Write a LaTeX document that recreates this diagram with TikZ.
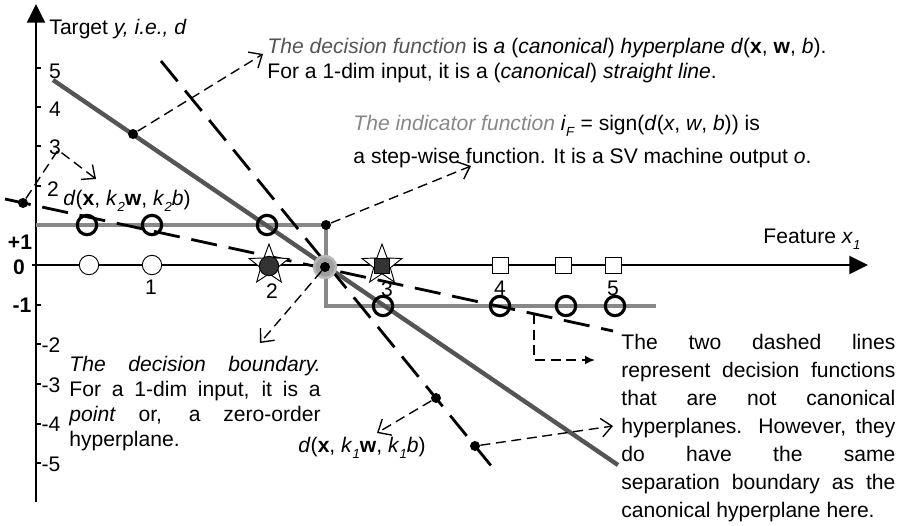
\documentclass[tikz,border=0pt]{standalone}
\usepackage{fontspec}
\setmainfont{Liberation Sans}
\usepackage{tikz}
\usetikzlibrary{shapes.geometric, arrows.meta}
\definecolor{canongray}{RGB}{85,85,85}
\definecolor{indgray}{RGB}{136,136,136}
\definecolor{ptdark}{RGB}{51,51,51}
\definecolor{bndfill}{RGB}{160,160,160}
\definecolor{bndring}{RGB}{185,185,185}
\newcommand{\lowsub}[1]{\raisebox{-0.55ex}{\fontsize{6}{6}\selectfont #1}}
\tikzset{
  axis/.style={-{Triangle[length=3mm,width=2.9mm]}, line width=0.3mm, black},
  canonline/.style={line width=0.7mm, color=canongray},
  indline/.style={line width=0.5mm, color=indgray},
  dashline/.style={line width=0.45mm, black, dash pattern=on 4.2mm off 1.9mm},
  annarrow/.style={-{Straight Barb[length=1.7mm,width=3mm]}, line width=0.22mm,
    dash pattern=on 1.6mm off 0.9mm},
  elbarrow/.style={-{Latex[length=1.6mm,width=1.4mm]}, line width=0.22mm,
    dash pattern=on 1.6mm off 0.9mm},
  opennode/.style={circle, draw, fill=white, minimum size=3.1mm,
    inner sep=0pt, line width=0.15mm},
  svnode/.style={circle, draw, minimum size=3.1mm, inner sep=0pt, line width=0.5mm},
  sqnode/.style={rectangle, draw, fill=white, minimum size=2.55mm,
    inner sep=0pt, line width=0.15mm},
  starnode/.style={star, star points=5, star point ratio=2.4, draw, fill=white,
    minimum size=6.7mm, inner sep=0pt, line width=0.15mm},
  darkcirc/.style={circle, draw, fill=ptdark, minimum size=3.1mm, inner sep=0pt,
    line width=0.15mm},
  darksq/.style={rectangle, draw, fill=ptdark, minimum size=2.5mm, inner sep=0pt,
    line width=0.15mm},
  bndnode/.style={circle, draw=bndring, fill=bndfill, minimum size=3.5mm,
    inner sep=0pt, line width=0.4mm},
  dotnode/.style={circle, fill=black, minimum size=1.6mm, inner sep=0pt},
  ticklbl/.style={inner sep=0pt},
  boldlbl/.style={inner sep=0pt, font=\fontsize{9.6}{12}\selectfont\bfseries}
}
\begin{document}
\begin{tikzpicture}[x=0.16mm, y=-0.16mm, font=\fontsize{9.6}{12.75}\selectfont]
  \useasboundingbox (0,0) rectangle (904,525);
  % Axes
  \draw[axis] (36,502) -- (36,4);
  \draw[axis] (32,265) -- (868,265);
  \node (ylabel) at (49,35) [anchor=base west, inner sep=0pt] {Target \textit{y, i.e., d}};
  \node (xlabel) at (763,243) [anchor=base west, inner sep=0pt] {Feature \textit{x}\lowsub{\textit{1}}};
  % Ticks and labels of the y axis
  \draw[line width=0.2mm] (36,68) -- (41,68) (36,107) -- (41,107) (36,146) -- (41,146)
    (36,186) -- (41,186) (36,305) -- (41,305) (36,344) -- (41,344) (36,384) -- (41,384)
    (36,424) -- (41,424) (36,463) -- (41,463);
  \node (yl5) at (55,71) [ticklbl] {5};
  \node (yl4) at (55,109) [ticklbl] {4};
  \node (yl3) at (55,147) [ticklbl] {3};
  \node (yl2) at (53,189) [ticklbl] {2};
  \node (ylp1) at (20,242) [boldlbl] {+1};
  \node (yl0) at (19,267) [boldlbl] {0};
  \node (ylm1) at (22,305) [boldlbl] {-1};
  \node (ylm2) at (51,345) [ticklbl] {-2};
  \node (ylm3) at (51,385) [ticklbl] {-3};
  \node (ylm4) at (51,424) [ticklbl] {-4};
  \node (ylm5) at (51,464) [ticklbl] {-5};
  % Labels of the x axis
  \node (xl1) at (151,287) [ticklbl] {1};
  \node (xl2) at (272,291) [ticklbl] {2};
  \node (xl3) at (387,289) [ticklbl] {3};
  \node (xl4) at (500,288) [ticklbl] {4};
  \node (xl5) at (613,288) [ticklbl] {5};
  % Indicator function (step)
  \draw[indline] (36,225) -- (326,225) -- (326,306) -- (656,306);
  % Canonical hyperplane
  \draw[canonline] (53,80) -- (618,465);
  % Non-canonical decision functions
  \draw[dashline] (161,61) -- (497,473);
  \draw[dashline] (5,199) -- (613,331);
  % Data points on the x axis
  \node (c1) at (89,265) [opennode] {};
  \node (c2) at (152,265) [opennode] {};
  \node (st2) at (269,265) [starnode] {};
  \node (dc2) at (269,266) [darkcirc] {};
  \node (st3) at (382,265) [starnode] {};
  \node (ds3) at (382,266) [darksq] {};
  \node (s4) at (500,265) [sqnode] {};
  \node (s5) at (563,265) [sqnode] {};
  \node (s6) at (613,265) [sqnode] {};
  % Support vectors
  \node (svp1) at (87,225) [svnode] {};
  \node (svp2) at (152,225) [svnode] {};
  \node (svp3) at (267,225) [svnode] {};
  \node (svm1) at (383,306) [svnode] {};
  \node (svm2) at (500,306) [svnode] {};
  \node (svm3) at (566,306) [svnode] {};
  \node (svm4) at (615,306) [svnode] {};
  % Boundary point and dots
  \node (bnd) at (325,267) [bndnode] {};
  \node (bnddot) at (325,267) [dotnode] {};
  \node (dfdot) at (133,134) [dotnode] {};
  \node (stepdot) at (326,225) [dotnode] {};
  \node (kadot) at (436,398) [dotnode] {};
  \node (kbdot) at (475,446) [dotnode] {};
  \node (kcdot) at (23,203) [dotnode] {};
  % Annotation texts
  \node (tdecfun) at (267,38) [anchor=north west, inner sep=0pt, align=left,
    font=\fontsize{9.6}{11.4}\selectfont]
    {{\color{canongray}\textit{The decision function}} is \textit{a} (\textit{canonical}) \textit{hyperplane} \textit{d}(\textbf{x}, \textbf{w}, \textit{b}).\\
     For a 1-dim input, it is a (\textit{canonical}) \textit{straight line}.};
  \node (tind) at (353,115) [anchor=north west, inner sep=0pt, align=left,
    font=\fontsize{9.6}{15}\selectfont]
    {{\color{indgray}\textit{The indicator function}} \textit{i}\lowsub{\textit{F}} = sign(\textit{d}(\textit{x}, \textit{w}, \textit{b})) is\\
     a step-wise function. It is a SV machine output \textit{o}.};
  \node (tbnd) at (69,356) [anchor=north west, inner sep=0pt, text width=40.2mm,
    align=justify, font=\fontsize{9.6}{11.4}\selectfont]
    {\textit{The decision boundary.}\linebreak For a 1-dim input, it is a\linebreak
     \textit{point} or, a zero-order\linebreak hyperplane.};
  \node (tnote) at (621,334) [anchor=north west, inner sep=0pt, text width=43.84mm,
    align=justify]
    {The two dashed lines\linebreak represent decision functions\linebreak that are not canonical\linebreak
     hyperplanes. However, they\linebreak do have the same\linebreak separation boundary as the\linebreak
     canonical hyperplane here.};
  \node (kalbl) at (298,452) [anchor=base west, inner sep=0pt]
    {\textit{d}(\textbf{x}, \textit{k}\lowsub{\textit{1}}\textbf{w}, \textit{k}\lowsub{\textit{1}}\textit{b})};
  \node (kclbl) at (63,205) [anchor=base west, inner sep=0pt]
    {\textit{d}(\textbf{x}, \textit{k}\lowsub{\textit{2}}\textbf{w}, \textit{k}\lowsub{\textit{2}}\textit{b})};
  % Arrow ends
  \coordinate (dfend) at (263,54);
  \coordinate (stepend) at (471,166);
  \coordinate (bndend) at (260,343);
  \coordinate (kaend) at (377,433);
  \coordinate (kbend) at (613,426);
  \coordinate (kcbend) at (58,150);
  \coordinate (kcend) at (96,179);
  \coordinate (elbstart) at (534,314);
  \coordinate (elbcorner) at (534,360);
  \coordinate (elbend) at (595,360);
  % Annotation arrows
  \draw[annarrow] (dfdot) -- (dfend);
  \draw[annarrow] (stepdot) -- (stepend);
  \draw[annarrow] (bnddot) -- (bndend);
  \draw[annarrow] (kadot) -- (kaend);
  \draw[annarrow] (kbdot) -- (kbend);
  \draw[annarrow] (kcdot) -- (kcbend) -- (kcend);
  \draw[elbarrow] (elbstart) -- (elbcorner) -- (elbend);
\end{tikzpicture}
\end{document}
